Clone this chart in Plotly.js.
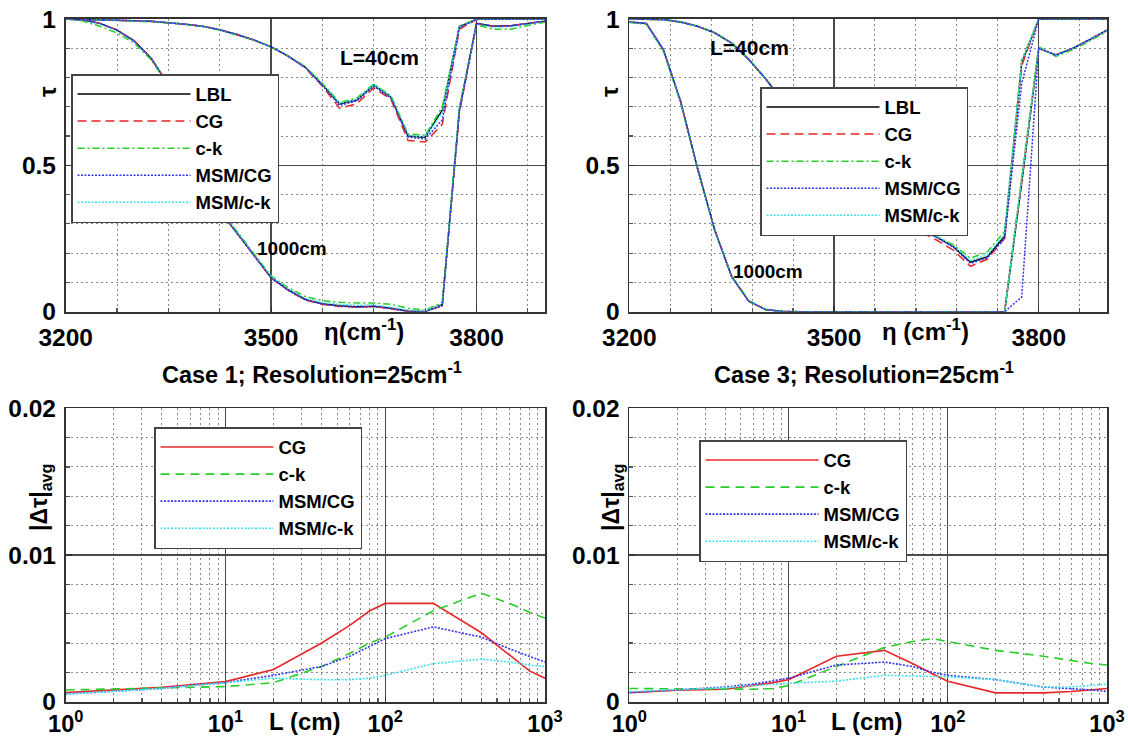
<!DOCTYPE html>
<html><head><meta charset="utf-8">
<script src="https://cdn.plot.ly/plotly-3.0.1.min.js"></script>
<style>body{margin:0;background:#fff}#chart{width:1128px;height:739px}</style>
</head><body><div id="chart"></div>
<script>
// ---------- data ----------
const eta = [3200,3225,3250,3275,3300,3325,3350,3375,3400,3425,3450,3475,3500,3525,3550,3575,3600,3625,3650,3675,3700,3725,3750,3775,3800,3825,3850,3875,3900];

// Case 1, L = 40 cm
const c1_40_LBL   = [1.000,0.999,0.998,0.996,0.994,0.992,0.988,0.982,0.975,0.963,0.947,0.928,0.905,0.873,0.835,0.775,0.710,0.723,0.775,0.733,0.600,0.596,0.689,0.974,0.999,1.000,1.000,1.000,1.000];
const c1_40_CG    = [1.000,0.999,0.998,0.996,0.994,0.992,0.988,0.982,0.975,0.963,0.947,0.928,0.905,0.872,0.833,0.770,0.695,0.710,0.765,0.725,0.585,0.580,0.640,0.965,0.998,1.000,1.000,1.000,1.000];
const c1_40_ck    = [1.000,0.999,0.997,0.995,0.993,0.991,0.987,0.981,0.974,0.962,0.946,0.928,0.905,0.874,0.837,0.780,0.715,0.730,0.778,0.738,0.607,0.603,0.700,0.975,0.999,1.000,1.000,1.000,1.000];
const c1_40_MSMCG = [1.000,0.999,0.998,0.996,0.994,0.992,0.988,0.982,0.975,0.963,0.947,0.928,0.905,0.873,0.834,0.773,0.705,0.720,0.770,0.730,0.597,0.590,0.655,0.970,0.999,1.000,1.000,1.000,1.000];
const c1_40_MSMck = [1.000,0.999,0.998,0.996,0.994,0.992,0.988,0.982,0.975,0.963,0.947,0.928,0.905,0.873,0.835,0.776,0.712,0.725,0.776,0.735,0.602,0.598,0.680,0.972,0.999,1.000,1.000,1.000,1.000];
// Case 1, L = 1000 cm
const c1_1000_LBL   = [1.000,0.997,0.985,0.962,0.925,0.865,0.775,0.655,0.500,0.345,0.270,0.195,0.117,0.075,0.042,0.027,0.020,0.017,0.019,0.012,0.002,0.000,0.025,0.690,0.985,0.975,0.977,0.985,0.992];
const c1_1000_CG    = [1.000,0.997,0.985,0.962,0.925,0.866,0.776,0.656,0.502,0.347,0.270,0.193,0.115,0.073,0.040,0.025,0.018,0.015,0.018,0.010,0.001,0.000,0.022,0.680,0.983,0.975,0.976,0.985,0.992];
const c1_1000_ck    = [1.000,0.993,0.975,0.952,0.918,0.860,0.772,0.655,0.502,0.350,0.275,0.200,0.122,0.082,0.052,0.038,0.032,0.030,0.030,0.025,0.012,0.005,0.032,0.700,0.980,0.965,0.965,0.978,0.990];
const c1_1000_MSMCG = [1.000,0.997,0.985,0.962,0.925,0.865,0.775,0.655,0.500,0.345,0.268,0.193,0.115,0.073,0.040,0.026,0.019,0.016,0.018,0.011,0.000,0.000,0.020,0.685,0.985,0.975,0.977,0.985,0.992];
const c1_1000_MSMck = [1.000,0.996,0.983,0.960,0.923,0.864,0.775,0.655,0.501,0.347,0.271,0.197,0.119,0.078,0.046,0.031,0.025,0.022,0.023,0.016,0.005,0.002,0.027,0.693,0.984,0.972,0.974,0.983,0.991];

// Case 3, L = 40 cm
const c3_40_LBL   = [1.000,1.000,0.998,0.990,0.975,0.953,0.918,0.862,0.795,0.720,0.645,0.570,0.500,0.440,0.390,0.350,0.315,0.285,0.256,0.222,0.169,0.188,0.259,0.850,1.000,1.000,1.000,1.000,1.000];
const c3_40_CG    = [1.000,1.000,0.998,0.990,0.975,0.953,0.918,0.862,0.795,0.720,0.645,0.570,0.500,0.440,0.388,0.346,0.308,0.275,0.245,0.210,0.155,0.180,0.250,0.840,1.000,1.000,1.000,1.000,1.000];
const c3_40_ck    = [1.000,1.000,0.998,0.990,0.975,0.953,0.918,0.862,0.795,0.720,0.645,0.570,0.500,0.440,0.390,0.350,0.316,0.287,0.258,0.228,0.183,0.205,0.275,0.860,1.000,1.000,1.000,1.000,1.000];
const c3_40_MSMCG = [1.000,1.000,0.998,0.990,0.975,0.953,0.918,0.862,0.795,0.720,0.645,0.570,0.500,0.440,0.390,0.349,0.313,0.283,0.254,0.220,0.165,0.185,0.250,0.780,1.000,1.000,1.000,1.000,1.000];
const c3_40_MSMck = [1.000,1.000,0.998,0.990,0.975,0.953,0.918,0.862,0.795,0.720,0.645,0.570,0.500,0.440,0.390,0.350,0.315,0.285,0.257,0.224,0.175,0.195,0.265,0.855,1.000,1.000,1.000,1.000,1.000];
// Case 3, L = 1000 cm
const c3_1000_LBL   = [0.990,0.985,0.895,0.720,0.490,0.280,0.120,0.036,0.007,0.001,0,0,0,0,0,0,0,0,0,0,0,0,0,0.440,0.900,0.877,0.900,0.930,0.962];
const c3_1000_CG    = [0.990,0.985,0.895,0.720,0.490,0.280,0.120,0.036,0.007,0.001,0,0,0,0,0,0,0,0,0,0,0,0,0,0.450,0.900,0.877,0.900,0.930,0.962];
const c3_1000_ck    = [0.988,0.982,0.890,0.715,0.488,0.280,0.122,0.038,0.008,0.001,0,0,0,0,0,0,0,0,0,0,0,0,0,0.460,0.905,0.872,0.895,0.925,0.958];
const c3_1000_MSMCG = [0.990,0.985,0.895,0.720,0.490,0.280,0.120,0.036,0.007,0.001,0,0,0,0,0,0,0,0,0,0,0,0,0,0.050,0.900,0.877,0.900,0.930,0.962];
const c3_1000_MSMck = [0.990,0.985,0.895,0.720,0.490,0.280,0.120,0.036,0.007,0.001,0,0,0,0,0,0,0,0,0,0,0,0,0,0.450,0.900,0.877,0.900,0.930,0.962];

// |Δτ|avg versus path length
const Lcm = [1,2,4,6,8,10,20,40,60,80,100,200,400,600,800,1000];
const c1_err_CG    = [0.00062,0.00078,0.00098,0.00115,0.00128,0.00137,0.0022,0.0040,0.0052,0.0062,0.0067,0.0067,0.0047,0.0032,0.0021,0.0016];
const c1_err_ck    = [0.0008,0.00088,0.00095,0.0010,0.0010,0.00103,0.0013,0.0024,0.0033,0.0040,0.0044,0.0062,0.0074,0.0067,0.0061,0.0057];
const c1_err_MSMCG = [0.00052,0.0007,0.0009,0.0011,0.0012,0.0013,0.0018,0.0024,0.0031,0.0038,0.0043,0.0051,0.0044,0.0036,0.0031,0.0027];
const c1_err_MSMck = [0.00052,0.0007,0.0009,0.0011,0.0012,0.0013,0.0016,0.0015,0.0015,0.0016,0.0018,0.0026,0.0029,0.0027,0.0025,0.0024];
const c3_err_CG    = [0.00062,0.00078,0.00085,0.0011,0.0013,0.0015,0.0031,0.0035,0.0026,0.0019,0.0014,0.0006,0.0006,0.0007,0.0008,0.0009];
const c3_err_ck    = [0.0009,0.00088,0.00085,0.00085,0.0009,0.0011,0.0024,0.0037,0.0041,0.0043,0.0041,0.0035,0.0031,0.0028,0.0026,0.0025];
const c3_err_MSMCG = [0.00062,0.0008,0.0010,0.0012,0.0014,0.0016,0.0025,0.0027,0.0024,0.0020,0.0018,0.0015,0.0010,0.0009,0.0008,0.0007];
const c3_err_MSMck = [0.00068,0.0008,0.00095,0.0011,0.0012,0.00125,0.0014,0.0018,0.00175,0.0017,0.0017,0.0015,0.0010,0.0010,0.0011,0.0012];

const logTickVals = [1,10,100,1000];
const logTickText = ['10<sup>0</sup>','10<sup>1</sup>','10<sup>2</sup>','10<sup>3</sup>'];
const logMinorVals = [2,3,4,5,6,7,8,9,20,30,40,50,60,70,80,90,200,300,400,500,600,700,800,900];

// ---------- styling ----------
const FONT = "'Liberation Sans', Arial, Helvetica, sans-serif";
const W = 1128, H = 739;
const px = v => v / W;
const py = v => 1 - v / H;

const RED = 'rgb(232,40,40)', GREEN = 'rgb(40,205,40)', BLUE = 'rgb(50,50,240)', CYAN = 'rgb(60,225,240)';
const topStyles = {
  LBL:   {name:'LBL',     line:{color:'#000', width:1.5, dash:'solid'}, rank:1},
  CG:    {name:'CG',      line:{color:RED,   width:1.5, dash:'9px,5px'}, rank:2},
  ck:    {name:'c-k',     line:{color:GREEN, width:1.5, dash:'7px,3px,2px,3px'}, rank:3},
  MSMCG: {name:'MSM/CG',  line:{color:BLUE,  width:1.5, dash:'2px,1.5px'}, rank:4},
  MSMck: {name:'MSM/c-k', line:{color:CYAN,  width:1.5, dash:'2px,1.5px'}, rank:5}
};
const botStyles = {
  CG:    {name:'CG',      line:{color:RED,   width:1.6, dash:'solid'}, rank:1},
  ck:    {name:'c-k',     line:{color:GREEN, width:1.6, dash:'9px,6px'}, rank:2},
  MSMCG: {name:'MSM/CG',  line:{color:BLUE,  width:1.6, dash:'2px,1.5px'}, rank:3},
  MSMck: {name:'MSM/c-k', line:{color:CYAN,  width:1.6, dash:'2px,1.5px'}, rank:4}
};

function tr(x, y, st, xa, ya, leg, show) {
  return {x:x, y:y, type:'scatter', mode:'lines', name:st.name, line:st.line,
          xaxis:xa, yaxis:ya, legend:leg, showlegend:show, legendrank:st.rank, hoverinfo:'skip'};
}

const data = [];
// Case 1 top
[[c1_40_LBL,c1_40_CG,c1_40_ck,c1_40_MSMck,c1_40_MSMCG,true],
 [c1_1000_LBL,c1_1000_CG,c1_1000_ck,c1_1000_MSMck,c1_1000_MSMCG,false]].forEach(s => {
  data.push(tr(eta, s[0], topStyles.LBL, 'x', 'y', 'legend', s[5]));
  data.push(tr(eta, s[1], topStyles.CG, 'x', 'y', 'legend', s[5]));
  data.push(tr(eta, s[2], topStyles.ck, 'x', 'y', 'legend', s[5]));
  data.push(tr(eta, s[3], topStyles.MSMck, 'x', 'y', 'legend', s[5]));
  data.push(tr(eta, s[4], topStyles.MSMCG, 'x', 'y', 'legend', s[5]));
});
// Case 3 top
[[c3_40_LBL,c3_40_CG,c3_40_ck,c3_40_MSMck,c3_40_MSMCG,true],
 [c3_1000_LBL,c3_1000_CG,c3_1000_ck,c3_1000_MSMck,c3_1000_MSMCG,false]].forEach(s => {
  data.push(tr(eta, s[0], topStyles.LBL, 'x2', 'y2', 'legend2', s[5]));
  data.push(tr(eta, s[1], topStyles.CG, 'x2', 'y2', 'legend2', s[5]));
  data.push(tr(eta, s[2], topStyles.ck, 'x2', 'y2', 'legend2', s[5]));
  data.push(tr(eta, s[3], topStyles.MSMck, 'x2', 'y2', 'legend2', s[5]));
  data.push(tr(eta, s[4], topStyles.MSMCG, 'x2', 'y2', 'legend2', s[5]));
});
// bottom
data.push(tr(Lcm, c1_err_CG, botStyles.CG, 'x3', 'y3', 'legend3', true));
data.push(tr(Lcm, c1_err_ck, botStyles.ck, 'x3', 'y3', 'legend3', true));
data.push(tr(Lcm, c1_err_MSMCG, botStyles.MSMCG, 'x3', 'y3', 'legend3', true));
data.push(tr(Lcm, c1_err_MSMck, botStyles.MSMck, 'x3', 'y3', 'legend3', true));
data.push(tr(Lcm, c3_err_CG, botStyles.CG, 'x4', 'y4', 'legend4', true));
data.push(tr(Lcm, c3_err_ck, botStyles.ck, 'x4', 'y4', 'legend4', true));
data.push(tr(Lcm, c3_err_MSMCG, botStyles.MSMCG, 'x4', 'y4', 'legend4', true));
data.push(tr(Lcm, c3_err_MSMck, botStyles.MSMck, 'x4', 'y4', 'legend4', true));

const tickFont = {family:FONT, size:24.5, weight:'bold', color:'#000'};
const common = {
  ticks:'inside', ticklen:6, tickcolor:'#333', tickwidth:1.2,
  showgrid:true, gridcolor:'#4a4a4a', gridwidth:1.4, zeroline:false,
  showline:true, linecolor:'#333', linewidth:1.8, mirror:true,
  tickfont:tickFont, ticklabelstandoff:3, fixedrange:true
};
const minorCommon = {ticks:'inside', ticklen:4, tickcolor:'#555', showgrid:true, gridcolor:'#8a8a8a', gridwidth:1, griddash:'2px,3px'};

function topX(dom, anchor, minorStep) {
  return Object.assign({}, common, {domain:dom, anchor:anchor, range:[3200,3900], tick0:3200, dtick:300,
    minor:Object.assign({}, minorCommon, {tick0:3200, dtick:minorStep})});
}
function topY(dom, anchor) {
  return Object.assign({}, common, {domain:dom, anchor:anchor, range:[0,1], tick0:0, dtick:0.5,
    minor:Object.assign({}, minorCommon, {tick0:0, dtick:0.1})});
}
function botX(dom, anchor) {
  return Object.assign({}, common, {domain:dom, anchor:anchor, type:'log', range:[0,3],
    tickmode:'array', tickvals:logTickVals, ticktext:logTickText, ticklabelstandoff:0,
    tickfont:{family:FONT, size:23.5, weight:'bold', color:'#000'},
    minor:Object.assign({}, minorCommon, {tickmode:'array', tickvals:logMinorVals})});
}
function botY(dom, anchor) {
  return Object.assign({}, common, {domain:dom, anchor:anchor, range:[0,0.02], tick0:0, dtick:0.01,
    minor:Object.assign({}, minorCommon, {tick0:0, dtick:0.002})});
}

const dTL = [px(65.7), px(545)], dTR = [px(629.3), px(1107)];
const dTop = [py(311.7), py(19)], dBot = [py(701.7), py(408.3)];

function legendAt(x, y) {
  return {x:px(x), y:py(y), xanchor:'left', yanchor:'top', bgcolor:'#fff', bordercolor:'#444', borderwidth:1.5,
          font:{family:FONT, size:18.5, weight:'bold', color:'#000'}, itemwidth:113, traceorder:'normal'};
}

const annFont = s => ({family:FONT, size:s, weight:'bold', color:'#000'});
function pAnn(text, x, y, size, angle) {
  return {text:text, xref:'paper', yref:'paper', x:px(x), y:py(y), xanchor:'center', yanchor:'middle',
          showarrow:false, font:annFont(size), textangle:angle || 0};
}
function dAnn(text, x, y, xr, yr, size) {
  return {text:text, xref:xr, yref:yr, x:x, y:y, xanchor:'center', yanchor:'middle', showarrow:false, font:annFont(size)};
}

const layout = {
  width:W, height:H, margin:{l:0, r:0, t:0, b:0},
  paper_bgcolor:'#fff', plot_bgcolor:'#fff',
  xaxis: topX(dTL, 'y', 75),  yaxis: topY(dTop, 'x'),
  xaxis2: topX(dTR, 'y2', 60), yaxis2: topY(dTop, 'x2'),
  xaxis3: botX(dTL, 'y3'),    yaxis3: botY(dBot, 'x3'),
  xaxis4: botX(dTR, 'y4'),    yaxis4: botY(dBot, 'x4'),
  legend: legendAt(71, 74),
  legend2: legendAt(760, 87),
  legend3: legendAt(154, 427),
  legend4: legendAt(699, 440),
  annotations: [
    pAnn('η(cm<sup>-1</sup>)', 364, 330, 24),
    pAnn('η (cm<sup>-1</sup>)', 925, 330, 24),
    pAnn('L (cm)', 305, 721, 24),
    pAnn('L (cm)', 867, 721, 24),
    pAnn('Case 1; Resolution=25cm<sup>-1</sup>', 312, 373, 23.5),
    pAnn('Case 3; Resolution=25cm<sup>-1</sup>', 864, 373, 23.5),
    pAnn('τ', 47, 92, 24, -90),
    pAnn('τ', 609, 92, 24, -90),
    pAnn('|Δτ|<sub>avg</sub>', 40, 498, 23, -90),
    pAnn('|Δτ|<sub>avg</sub>', 612, 498, 23, -90),
    dAnn('L=40cm', 3658, 0.868, 'x', 'y', 21),
    dAnn('1000cm', 3531, 0.217, 'x', 'y', 19),
    dAnn('L=40cm', 3376, 0.903, 'x2', 'y2', 21),
    dAnn('1000cm', 3403, 0.137, 'x2', 'y2', 19)
  ]
};

Plotly.newPlot('chart', data, layout, {staticPlot:true, displayModeBar:false});
</script>
</body></html>
